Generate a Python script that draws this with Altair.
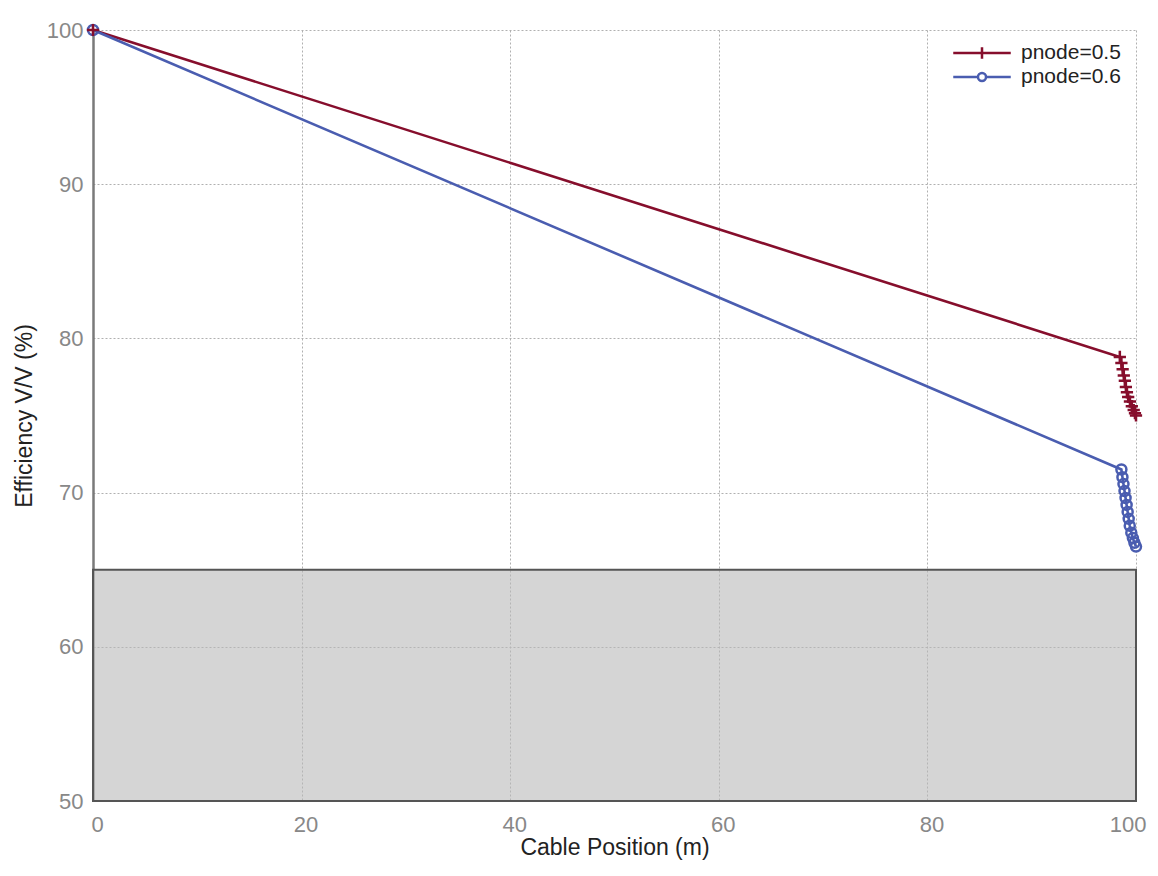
import altair as alt
import pandas as pd

# ---- data ----
series_names = ["pnode=0.5", "pnode=0.6"]
series_colors = ["#860e2c", "#4a5db0"]

red_x = [0, 98.45, 98.6, 98.72, 98.83, 98.93, 99.03, 99.13, 99.25, 99.42, 99.6, 99.78, 99.9, 100.0]
red_y = [100, 78.8, 78.4, 78.0, 77.6, 77.25, 76.85, 76.5, 76.2, 75.9, 75.6, 75.35, 75.15, 75.0]

blue_x = [0, 98.6, 98.7, 98.8, 98.9, 99.0, 99.1, 99.2, 99.3, 99.4, 99.55, 99.7, 99.85, 100.0]
blue_y = [100, 71.5, 71.0, 70.55, 70.1, 69.65, 69.2, 68.75, 68.3, 67.85, 67.4, 67.05, 66.75, 66.5]

band_x = [0, 100]
band_y = [50, 65]

x_ticks = [0, 20, 40, 60, 80, 100]
y_ticks = [50, 60, 70, 80, 90, 100]

x_title = "Cable Position (m)"
y_title = "Efficiency V/V (%)"

# ---- tables ----
red_df = pd.DataFrame({"x": red_x, "y": red_y, "series": series_names[0]})
blue_df = pd.DataFrame({"x": blue_x, "y": blue_y, "series": series_names[1]})
all_df = pd.concat([red_df, blue_df], ignore_index=True)
band_df = pd.DataFrame({"x": [band_x[0]], "x1": [band_x[1]], "y": [band_y[0]], "y1": [band_y[1]]})

FONT = "Liberation Sans"

x_axis = alt.Axis(values=x_ticks, title=x_title, grid=True, domain=False, ticks=False,
                  labelPadding=13, titlePadding=1, labelFlush=True, labelFlushOffset=6,
                  labelOffset=4)
y_axis = alt.Axis(values=y_ticks, title=y_title, grid=True, domain=True, ticks=False,
                  domainColor="#7a7a7a", domainWidth=2.5, labelPadding=10, titlePadding=10)
x_scale = alt.Scale(domain=[0, 100], nice=False, zero=False)
y_scale = alt.Scale(domain=[50, 100], nice=False, zero=False)

X = alt.X("x:Q", scale=x_scale, axis=x_axis, title=x_title)
Y = alt.Y("y:Q", scale=y_scale, axis=y_axis, title=y_title)

band = alt.Chart(band_df).mark_rect(
    fill="#b9b9b9", fillOpacity=0.6, stroke="#555555", strokeWidth=2, strokeOpacity=1
).encode(x=X, x2="x1:Q", y=Y, y2="y1:Q")

cross_path = "M-1,0H1M0,-1V1"

red_line = alt.Chart(red_df).mark_line(color=series_colors[0], strokeWidth=2.6).encode(x=X, y=Y)
blue_line = alt.Chart(blue_df).mark_line(color=series_colors[1], strokeWidth=2.6).encode(x=X, y=Y)
red_pts = alt.Chart(red_df).mark_point(
    shape=cross_path, filled=False, color=series_colors[0], size=150, strokeWidth=2.5, opacity=1
).encode(x=X, y=Y)
blue_pts = alt.Chart(blue_df).mark_point(
    shape="circle", filled=False, color=series_colors[1], size=100, strokeWidth=2.5, opacity=1
).encode(x=X, y=Y)

legend_red = "M-2.5,0H2.5M0,-0.5V0.5"
legend_blue = "M-2.5,0H-0.35A0.35,0.35,0,1,1,0.35,0A0.35,0.35,0,1,1,-0.35,0M0.35,0H2.5"

legend_layer = alt.Chart(all_df).mark_point(opacity=0, filled=False).encode(
    x=X, y=Y,
    color=alt.Color("series:N", scale=alt.Scale(domain=series_names, range=series_colors),
                    legend=alt.Legend(title=None)),
    shape=alt.Shape("series:N", scale=alt.Scale(domain=series_names, range=[legend_red, legend_blue]),
                    legend=alt.Legend(title=None)),
)

chart = alt.layer(band, legend_layer, red_line, blue_line, blue_pts, red_pts).properties(
    width=1043, height=771,
    autosize=alt.AutoSizeParams(type="none"),
    padding={"left": 85, "top": 22, "right": 14, "bottom": 62},
).configure_view(stroke=None).configure_axis(
    gridColor="#b0b0b0", gridDash=[2, 2], gridWidth=1,
    labelColor="#888888", labelFont=FONT, labelFontSize=22,
    titleColor="#222222", titleFont=FONT, titleFontSize=23, titleFontWeight="normal",
).configure_legend(
    orient="none", legendX=876, legendY=10, padding=0,
    symbolSize=529, symbolStrokeWidth=2.5, symbolOpacity=1, symbolFillColor="transparent",
    labelFont=FONT, labelFontSize=21, labelColor="#222222", labelOffset=26, rowPadding=0,
)

chart.save("out.html", embed_options={"renderer": "svg", "actions": False})
